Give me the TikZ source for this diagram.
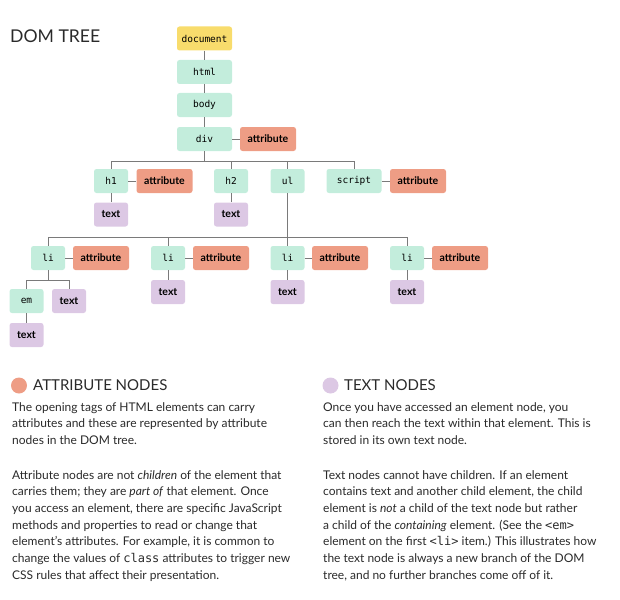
\documentclass[tikz,border=0pt]{standalone}
\usepackage{fontspec}
\setmainfont{Lato}
\setmonofont{DejaVu Sans Mono}
\definecolor{elgreen}{HTML}{C3EDDC}
\definecolor{docyel}{HTML}{F8DC6C}
\definecolor{attred}{HTML}{EE9D85}
\definecolor{txtlil}{HTML}{DCC8E4}
\definecolor{lngray}{HTML}{7A7A7A}
\definecolor{inkgray}{HTML}{2A2A2A}
\begin{document}
\begin{tikzpicture}[x=1pt,y=-1pt,
        bsty/.style={rounded corners=2.5pt,minimum height=24pt,inner sep=0pt},
        elsty/.style={bsty,fill=elgreen,minimum width=34pt,font=\ttfamily\fontsize{9.5}{10}\selectfont},
        wsty/.style={elsty,minimum width=55pt},
        docsty/.style={wsty,fill=docyel},
        atsty/.style={bsty,fill=attred,minimum width=56pt,font=\bfseries\fontsize{10.5}{10}\selectfont},
        txsty/.style={bsty,fill=txtlil,minimum width=34pt,font=\bfseries\fontsize{10.5}{10}\selectfont},
        lsty/.style={draw=lngray,line width=0.8pt},
        dsty/.style={circle,inner sep=0pt,minimum size=16pt},
        hsty/.style={anchor=base west,inner sep=0pt,text=inkgray,font=\fontsize{15}{15}\selectfont},
        psty/.style={anchor=base west,align=left,inner sep=0pt,text=inkgray,font=\fontsize{12}{16.7}\selectfont},
        ]
    \useasboundingbox (0,0) rectangle (620,599);

    \node (title) at (10,43) [anchor=base west,inner sep=0pt,text=inkgray,font=\fontsize{17.6}{18}\selectfont] {DOM TREE};

    \node (doc) at (204.5,38.5) [docsty] {document};
    \node (html) at (204.5,72) [wsty] {html};
    \node (body) at (204.5,105) [wsty] {body};
    \node (div) at (204.5,139) [wsty] {div};
    \node (divat) at (268,139) [atsty] {attribute};

    \node (h1) at (111,181) [elsty] {h1};
    \node (h1at) at (164.5,181) [atsty] {attribute};
    \node (h1tx) at (111,214.5) [txsty] {text};
    \node (h2) at (231,181) [elsty] {h2};
    \node (h2tx) at (231,214.5) [txsty] {text};
    \node (ul) at (287.5,181) [elsty] {ul};
    \node (script) at (354,181) [wsty] {script};
    \node (scrat) at (418,181) [atsty] {attribute};

    \node (li1) at (48,258) [elsty] {li};
    \node (li1at) at (101,258) [atsty] {attribute};
    \node (li2) at (168,258) [elsty] {li};
    \node (li2at) at (221,258) [atsty] {attribute};
    \node (li3) at (287.5,258) [elsty] {li};
    \node (li3at) at (340,258) [atsty] {attribute};
    \node (li4) at (407,258) [elsty] {li};
    \node (li4at) at (460,258) [atsty] {attribute};

    \node (em) at (26.5,301) [elsty] {em};
    \node (li1tx) at (69,301) [txsty] {text};
    \node (emtx) at (26.5,335) [txsty] {text};
    \node (li2tx) at (168,292) [txsty] {text};
    \node (li3tx) at (287.5,292) [txsty] {text};
    \node (li4tx) at (407,292) [txsty] {text};

    \coordinate (divbar) at (204.5,161);
    \coordinate (ulbar) at (287.5,237);
    \coordinate (libar) at (48,280);

    \draw[lsty] (doc) -- (html);
    \draw[lsty] (html) -- (body);
    \draw[lsty] (body) -- (div);
    \draw[lsty] (div) -- (divat);
    \draw[lsty] (div) -- (divbar);
    \foreach \c in {h1,h2,ul,script}
        \draw[lsty] (divbar) -| (\c);
    \draw[lsty] (h1) -- (h1at);
    \draw[lsty] (script) -- (scrat);
    \draw[lsty] (h1) -- (h1tx);
    \draw[lsty] (h2) -- (h2tx);
    \draw[lsty] (ul) -- (ulbar);
    \foreach \c in {li1,li2,li3,li4}
        \draw[lsty] (ulbar) -| (\c);
    \foreach \c in {li1,li2,li3,li4}
        \draw[lsty] (\c) -- (\c at);
    \draw[lsty] (li1) -- (libar);
    \draw[lsty] (libar) -| (em);
    \draw[lsty] (libar) -| (li1tx);
    \draw[lsty] (em) -- (emtx);
    \draw[lsty] (li2) -- (li2tx);
    \draw[lsty] (li3) -- (li3tx);
    \draw[lsty] (li4) -- (li4tx);

    \node (atdot) at (19,385.5) [dsty,fill=attred] {};
    \node (athead) at (33,390.7) [hsty] {ATTRIBUTE NODES};
    \node (txdot) at (330.5,385.5) [dsty,fill=txtlil] {};
    \node (txhead) at (344,390.7) [hsty] {TEXT NODES};

    \node (attp1) at (12,444.4) [psty] {The opening tags of HTML elements can carry\\
        attributes and these are represented by attribute\\
        nodes in the DOM tree.};
    \node (attp2) at (12,579.2) [psty] {Attribute nodes are not \textit{children} of the element that\\
        carries them; they are \textit{part of} that element. Once\\
        you access an element, there are specific JavaScript\\
        methods and properties to read or change that\\
        element's attributes. For example, it is common to\\
        change the values of \texttt{class} attributes to trigger new\\
        CSS rules that affect their presentation.};
    \node (txp1) at (323,444.4) [psty] {Once you have accessed an element node, you\\
        can then reach the text within that element. This is\\
        stored in its own text node.};
    \node (txp2) at (323,579.2) [psty] {Text nodes cannot have children. If an element\\
        contains text and another child element, the child\\
        element is \textit{not} a child of the text node but rather\\
        a child of the \textit{containing} element. (See the \texttt{<em>}\\
        element on the first \texttt{<li>} item.) This illustrates how\\
        the text node is always a new branch of the DOM\\
        tree, and no further branches come off of it.};
\end{tikzpicture}
\end{document}
